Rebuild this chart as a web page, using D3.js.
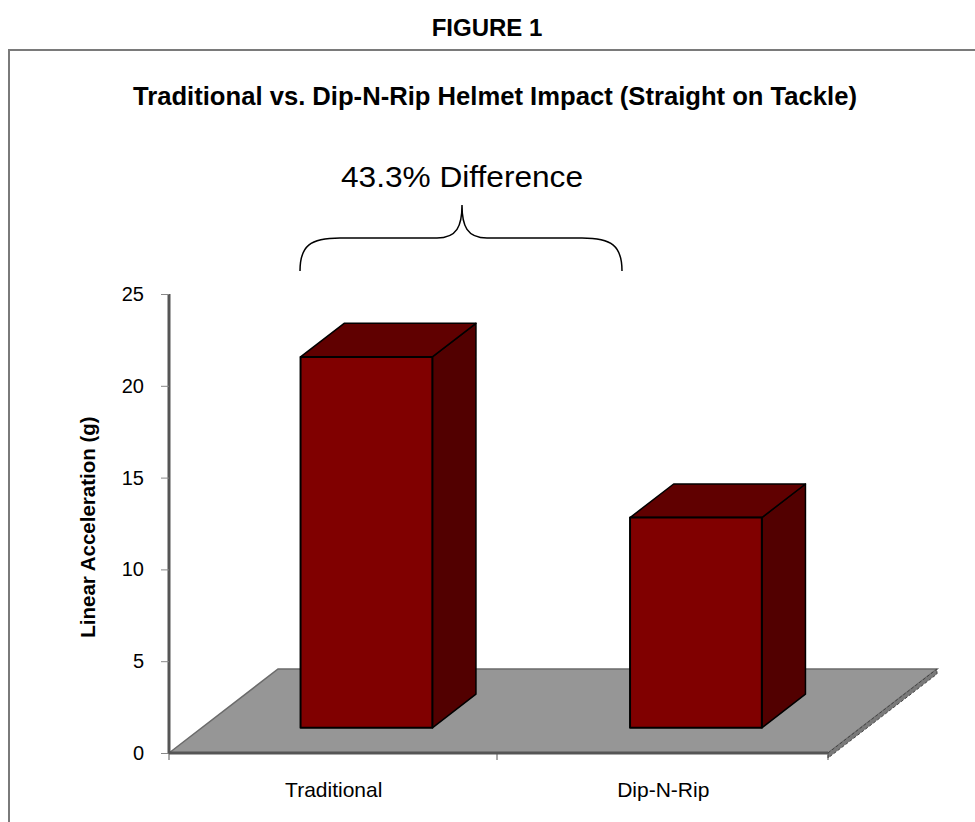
<!DOCTYPE html>
<html><head><meta charset="utf-8">
<script src="https://cdn.jsdelivr.net/npm/d3@7"></script>
<style>body{margin:0;background:#fff}svg{display:block}text{font-family:"Liberation Sans",Arial,sans-serif}</style>
</head><body>
<svg id="c" width="975" height="822"></svg>
<script>
const categories = ["Traditional", "Dip-N-Rip"];
const values = [20.2, 11.45];
const yTicks = [0, 5, 10, 15, 20, 25];
const figureTitle = "FIGURE 1";
const chartTitle = "Traditional vs. Dip-N-Rip Helmet Impact (Straight on Tackle)";
const annotation = "43.3% Difference";
const yTitle = "Linear Acceleration (g)";

const svg = d3.select("#c");
// frame
svg.append("path").attr("d","M9,822 V50 H975").attr("fill","none").attr("stroke","#7a7a7a").attr("stroke-width",2);
svg.append("text").attr("x",487).attr("y",36).attr("text-anchor","middle")
  .attr("font-size",24).attr("font-weight","bold").text(figureTitle);
svg.append("text").attr("x",495).attr("y",105).attr("text-anchor","middle")
  .attr("font-size",25).attr("font-weight","bold")
  .attr("textLength",724).attr("lengthAdjust","spacingAndGlyphs").text(chartTitle);

const y = d3.scaleLinear().domain([0,25]).range([753,294]);
const x = d3.scaleBand().domain(categories).range([169,828]).paddingInner(0).paddingOuter(0);
const DX = 109, DY = -84; // depth projection
const f0 = 0.30, f1 = 0.70, barFrac = 0.40;
const P = (px, v, f) => [px + DX*f, y(v) + DY*f];

// floor
const floor = [P(169,0,0), P(169,0,1), P(828,0,1), P(828,0,0)];
svg.append("path").attr("d", "M"+floor.map(p=>p.join(",")).join("L")+"Z")
  .attr("fill","#969696").attr("stroke","#6b6b6b").attr("stroke-width",1.5);
// floor thickness on right edge
const ft = [P(828,0,0), P(828,0,1), [P(828,0,1)[0], P(828,0,1)[1]+5], [P(828,0,0)[0], P(828,0,0)[1]+5]];
svg.append("path").attr("d", "M"+ft.map(p=>p.join(",")).join("L")+"Z")
  .attr("fill","#7a7a7a").attr("stroke","#444").attr("stroke-width",1).attr("stroke-dasharray","3,2");

// bars
const g = svg.append("g");
categories.forEach((c,i)=>{
  const v = values[i];
  const cx = x(c) + x.bandwidth()/2;
  const w = x.bandwidth()*barFrac;
  const xl = cx - w/2, xr = cx + w/2;
  const A = P(xl,0,f0), B = P(xr,0,f0), Ct = P(xr,v,f0), D = P(xl,v,f0);
  const E = P(xl,v,f1), F = P(xr,v,f1), G = P(xr,0,f1);
  const poly = pts => "M"+pts.map(p=>p.join(",")).join("L")+"Z";
  g.append("path").attr("d", poly([B,G,F,Ct])).attr("fill","#520000").attr("stroke","#000").attr("stroke-width",1.5).attr("stroke-linejoin","round");
  g.append("path").attr("d", poly([D,Ct,F,E])).attr("fill","#600000").attr("stroke","#000").attr("stroke-width",1.5).attr("stroke-linejoin","round");
  g.append("path").attr("d", poly([A,B,Ct,D])).attr("fill","#800000").attr("stroke","#000").attr("stroke-width",2).attr("stroke-linejoin","round");
});

// y axis
const ya = svg.append("g").attr("transform","translate(169,0)")
  .call(d3.axisLeft(y).tickValues(yTicks).tickSize(8).tickPadding(17).tickFormat(d3.format("d")));
ya.select(".domain").attr("stroke","#555").attr("stroke-width",3).attr("d","M0,753V294");
ya.selectAll(".tick line").attr("stroke","#888");
ya.selectAll("text").attr("font-size",20).attr("font-family","Liberation Sans, Arial, sans-serif").attr("fill","#000");

// x axis
const xa = svg.append("g").attr("transform","translate(0,753)")
  .call(d3.axisBottom(x).tickSize(0).tickPadding(29));
xa.select(".domain").attr("stroke","#555").attr("stroke-width",3).attr("d","M169,0H828");
xa.selectAll("text").attr("font-size",21).attr("font-family","Liberation Sans, Arial, sans-serif").attr("fill","#000");
[169, 497, 828].forEach(t=>{
  svg.append("line").attr("x1",t).attr("x2",t).attr("y1",753).attr("y2",760).attr("stroke","#555").attr("stroke-width",1);
});

// y title
svg.append("text").attr("transform","translate(95,527) rotate(-90)").attr("text-anchor","middle")
  .attr("font-size",20.5).attr("font-weight","bold").text(yTitle);

// annotation + brace
svg.append("text").attr("x",462).attr("y",187).attr("text-anchor","middle").attr("font-size",29)
  .attr("textLength",242).attr("lengthAdjust","spacingAndGlyphs").text(annotation);
const bl = 300, br = 622, bm = 462, by0 = 271, by1 = 238, bt = 205;
const brace = `M${bl},${by0} C${bl},${by1+8} ${bl+10},${by1} ${bl+40},${by1} L${bm-25},${by1} C${bm-5},${by1} ${bm},${by1-12} ${bm},${bt}
 C${bm},${by1-12} ${bm+5},${by1} ${bm+25},${by1} L${br-40},${by1} C${br-10},${by1} ${br},${by1+8} ${br},${by0}`;
svg.append("path").attr("d",brace).attr("fill","none").attr("stroke","#000").attr("stroke-width",1.5);
</script>
</body></html>
